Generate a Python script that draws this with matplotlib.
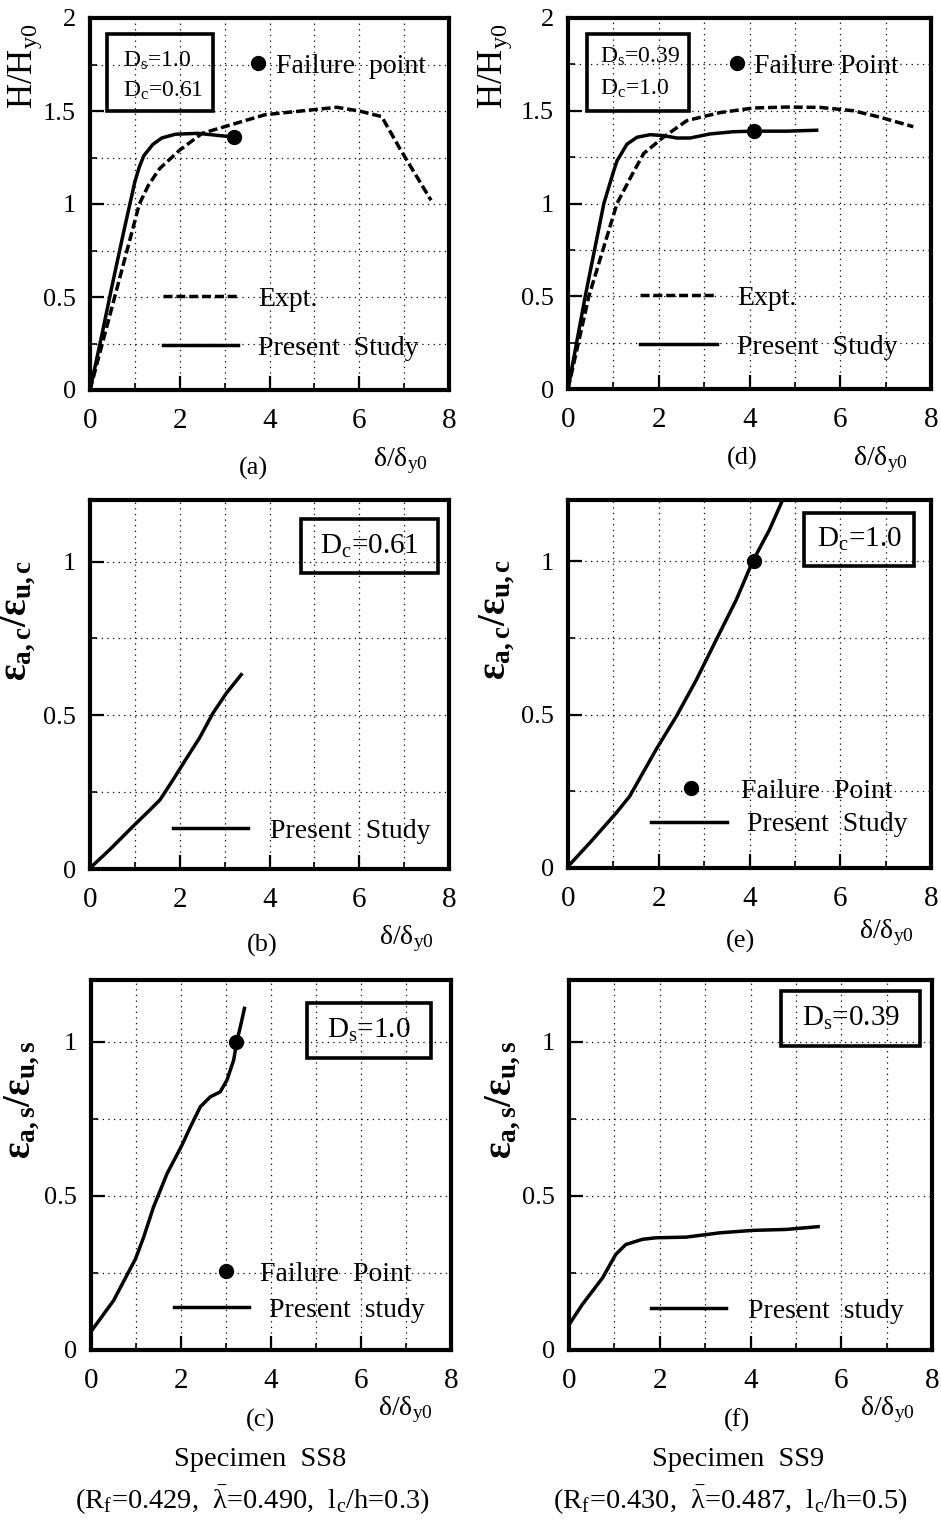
import matplotlib
matplotlib.use('Agg')
import matplotlib.pyplot as plt
from matplotlib.legend import Legend
from matplotlib.patches import Rectangle
from matplotlib.ticker import MultipleLocator, FuncFormatter

plt.rcParams['font.family'] = 'Liberation Serif'
plt.rcParams['mathtext.fontset'] = 'custom'
plt.rcParams['mathtext.rm'] = 'Liberation Serif'
plt.rcParams['mathtext.it'] = 'Liberation Serif:italic'
plt.rcParams['mathtext.bf'] = 'Liberation Serif:bold'
plt.rcParams['mathtext.default'] = 'rm'

# ---- data ----
# (a) SS8, lateral load
a_pred_x = [0, 0.25, 0.5, 0.75, 1.0, 1.1, 1.2, 1.4, 1.6, 1.9, 2.4, 2.8, 3.22]
a_pred_y = [0, 0.28, 0.57, 0.85, 1.12, 1.2, 1.26, 1.32, 1.355, 1.375, 1.38, 1.37, 1.36]
a_expt_x = [0, 0.55, 1.1, 1.3, 1.55, 2.0, 2.5, 3.2, 3.9, 4.7, 5.5, 6.0, 6.5, 6.9, 7.6]
a_expt_y = [0, 0.5, 1.0, 1.1, 1.19, 1.29, 1.38, 1.43, 1.48, 1.50, 1.52, 1.50, 1.47, 1.30, 1.02]
a_fail = [3.22, 1.36]

# (d) SS9, lateral load
d_pred_x = [0, 0.38, 0.79, 1.0, 1.08, 1.3, 1.52, 1.81, 2.1, 2.4, 2.69, 3.13, 3.65, 4.09, 4.82, 5.48]
d_pred_y = [0, 0.5, 1.0, 1.17, 1.23, 1.32, 1.357, 1.371, 1.366, 1.353, 1.353, 1.375, 1.387, 1.39, 1.39, 1.395]
d_expt_x = [0, 0.46, 1.08, 1.4, 1.67, 2.1, 2.62, 3.35, 4.09, 4.82, 5.56, 6.29, 6.88, 7.61]
d_expt_y = [0, 0.5, 1.0, 1.15, 1.27, 1.357, 1.447, 1.49, 1.515, 1.52, 1.518, 1.50, 1.465, 1.414]
d_fail = [4.09, 1.39]

# (b) SS8, concrete strain
b_pred_x = [0, 0.44, 0.96, 1.3, 1.56, 1.85, 2.15, 2.44, 2.74, 3.04, 3.37]
b_pred_y = [0.003, 0.063, 0.139, 0.187, 0.225, 0.29, 0.36, 0.426, 0.507, 0.572, 0.632]

# (e) SS9, concrete strain
e_pred_x = [0, 0.48, 1.06, 1.36, 1.65, 1.94, 2.39, 2.83, 3.27, 3.71, 4.07, 4.44, 4.73]
e_pred_y = [0.005, 0.082, 0.179, 0.234, 0.31, 0.386, 0.495, 0.614, 0.745, 0.875, 1.0, 1.103, 1.2]
e_fail = [4.11, 1.0]

# (c) SS8, steel strain
c_pred_x = [0, 0.5, 0.99, 1.17, 1.39, 1.69, 2.02, 2.21, 2.43, 2.65, 2.87, 3.02, 3.17, 3.24, 3.32, 3.41]
c_pred_y = [0.06, 0.16, 0.296, 0.366, 0.464, 0.572, 0.664, 0.724, 0.789, 0.821, 0.837, 0.875, 0.94, 1.0, 1.049, 1.108]
c_fail = [3.22, 1.0]

# (f) SS9, steel strain
f_pred_x = [0, 0.29, 0.74, 1.03, 1.25, 1.62, 1.92, 2.58, 3.32, 4.06, 4.79, 5.49]
f_pred_y = [0.082, 0.147, 0.234, 0.31, 0.342, 0.359, 0.364, 0.366, 0.38, 0.388, 0.391, 0.4]

W, H = 941, 1531
fig = plt.figure(figsize=(W / 100, H / 100), dpi=100)

LW = 2.5
DASH = (0, (2.6, 1.1))
LEG_FS = 20
LEG_PX = LEG_FS * 100 / 72


def make_ax(left, top, right, bottom, ymax, ylabel, ybold, lab_xy):
    ax = fig.add_axes([left / W, 1 - bottom / H, (right - left) / W, (bottom - top) / H])
    ax.set_xlim(0, 8)
    ax.set_ylim(0, ymax)
    ax.xaxis.set_major_locator(MultipleLocator(2))
    ax.xaxis.set_minor_locator(MultipleLocator(1))
    ax.yaxis.set_major_locator(MultipleLocator(0.5))
    ax.yaxis.set_minor_locator(MultipleLocator(0.25))
    fmt = FuncFormatter(lambda v, p: '%g' % v)
    ax.xaxis.set_major_formatter(fmt)
    ax.yaxis.set_major_formatter(fmt)
    ax.grid(which='both', linestyle=(0, (1, 3.5)), color='k', linewidth=0.9)
    ax.tick_params(which='major', direction='in', length=10, width=1.6)
    ax.tick_params(which='minor', direction='in', length=5, width=1.2)
    ax.tick_params(axis='x', labelsize=21, pad=13)
    ax.tick_params(axis='y', labelsize=19, pad=10)
    for s in ax.spines.values():
        s.set_linewidth(3)
    if ybold:
        ax.set_ylabel(ylabel, fontsize=28, va='center')
    else:
        ax.set_ylabel(ylabel, fontsize=25, va='center')
    ax.yaxis.set_label_coords(*lab_xy)
    return ax


def key(ax, handles, labels, anchor, hl_px, pad_px, spacing=0.8):
    leg = Legend(ax, handles, labels, loc='center left', bbox_to_anchor=anchor,
                 frameon=False, fontsize=LEG_FS, handlelength=hl_px / LEG_PX,
                 handletextpad=pad_px / LEG_PX, labelspacing=spacing,
                 borderpad=0, borderaxespad=0, numpoints=1)
    ax.add_artist(leg)


def box(ax, x0, y0, x1, y1):
    ax.add_patch(Rectangle((x0, y0), x1 - x0, y1 - y0, transform=ax.transAxes,
                           fill=False, ec='k', lw=2.6, zorder=5, clip_on=False))


def tags(ax, tag, tag_xy, dl_xy):
    ax.text(tag_xy[0], tag_xy[1], tag, transform=ax.transAxes, fontsize=19,
            ha='center', va='center')
    ax.text(dl_xy[0], dl_xy[1], r'$\delta/\delta_{y0}$', transform=ax.transAxes,
            fontsize=20, ha='center', va='center')


H_LAB = r'H/H$_{y0}$'
EC_LAB = r'$\mathbf{\varepsilon_{a,c}/\varepsilon_{u,c}}$'
ES_LAB = r'$\mathbf{\varepsilon_{a,s}/\varepsilon_{u,s}}$'

# ---- (a) ----
ax = make_ax(90, 18, 449, 390, 2, H_LAB, False, (-0.18, 0.87))
ex, = ax.plot(a_expt_x, a_expt_y, color='k', lw=LW, linestyle=DASH)
pr, = ax.plot(a_pred_x, a_pred_y, color='k', lw=LW)
fp, = ax.plot(a_fail[0], a_fail[1], 'o', color='k', ms=10)
key(ax, [fp], ['Failure  point'], (0.4675, 0.87), 0, 18.5)
key(ax, [ex, pr], ['Expt.', 'Present  Study'], (0.204, 0.178), 75, 19.8, 0.85)
box(ax, 0.048, 0.751, 0.343, 0.957)
ax.text(0.093, 0.885, r'D$_s$=1.0', transform=ax.transAxes, fontsize=17, va='center')
ax.text(0.093, 0.805, r'D$_c$=0.61', transform=ax.transAxes, fontsize=17, va='center')
tags(ax, '(a)', (0.456, -0.21), (0.864, -0.19))

# ---- (d) ----
ax = make_ax(568, 18, 931, 389, 2, H_LAB, False, (-0.2, 0.87))
ex, = ax.plot(d_expt_x, d_expt_y, color='k', lw=LW, linestyle=DASH)
pr, = ax.plot(d_pred_x, d_pred_y, color='k', lw=LW)
fp, = ax.plot(d_fail[0], d_fail[1], 'o', color='k', ms=10)
key(ax, [fp], ['Failure Point'], (0.465, 0.871), 0, 16.8)
key(ax, [ex, pr], ['Expt.', 'Present  Study'], (0.199, 0.178), 76.7, 20, 0.85)
box(ax, 0.052, 0.75, 0.332, 0.957)
ax.text(0.089, 0.894, r'D$_s$=0.39', transform=ax.transAxes, fontsize=17, va='center')
ax.text(0.089, 0.809, r'D$_c$=1.0', transform=ax.transAxes, fontsize=17, va='center')
tags(ax, '(d)', (0.48, -0.186), (0.86, -0.19))

# ---- (b) ----
ax = make_ax(90, 500, 449, 869, 1.2, EC_LAB, True, (-0.2, 0.675))
pr, = ax.plot(b_pred_x, b_pred_y, color='k', lw=LW)
key(ax, [pr], ['Present  Study'], (0.231, 0.1017), 75, 21.6)
box(ax, 0.588, 0.802, 0.968, 0.948)
ax.text(0.778, 0.875, r'D$_c$=0.61', transform=ax.transAxes, fontsize=21,
        ha='center', va='center')
tags(ax, '(b)', (0.48, -0.206), (0.88, -0.19))

# ---- (e) ----
ax = make_ax(568, 500, 931, 868, 1.2, EC_LAB, True, (-0.196, 0.675))
pr, = ax.plot(e_pred_x, e_pred_y, color='k', lw=LW)
fp, = ax.plot(e_fail[0], e_fail[1], 'o', color='k', ms=10)
key(ax, [fp], ['Failure  Point'], (0.34, 0.208), 0, 50)
key(ax, [pr], ['Present  Study'], (0.229, 0.1175), 75.4, 20)
box(ax, 0.651, 0.822, 0.954, 0.966)
ax.text(0.8025, 0.894, r'D$_c$=1.0', transform=ax.transAxes, fontsize=21,
        ha='center', va='center')
tags(ax, '(e)', (0.474, -0.2), (0.877, -0.177))

# ---- (c) ----
ax = make_ax(91, 980, 451, 1350, 1.2, ES_LAB, True, (-0.19, 0.676))
pr, = ax.plot(c_pred_x, c_pred_y, color='k', lw=LW)
fp, = ax.plot(c_fail[0], c_fail[1], 'o', color='k', ms=10)
key(ax, [fp], ['Failure  Point'], (0.376, 0.206), 0, 33.8)
key(ax, [pr], ['Present  study'], (0.23, 0.108), 74.7, 20.3)
box(ax, 0.6, 0.788, 0.945, 0.939)
ax.text(0.7725, 0.8635, r'D$_s$=1.0', transform=ax.transAxes, fontsize=21,
        ha='center', va='center')
tags(ax, '(c)', (0.47, -0.19), (0.872, -0.16))

# ---- (f) ----
ax = make_ax(569, 980, 932, 1350, 1.2, ES_LAB, True, (-0.18, 0.676))
pr, = ax.plot(f_pred_x, f_pred_y, color='k', lw=LW)
key(ax, [pr], ['Present  study'], (0.226, 0.106), 75.4, 21.8)
box(ax, 0.585, 0.822, 0.968, 0.969)
ax.text(0.7765, 0.8955, r'D$_s$=0.39', transform=ax.transAxes, fontsize=21,
        ha='center', va='center')
tags(ax, '(f)', (0.463, -0.19), (0.876, -0.16))

# ---- specimen captions ----
fig.text(260 / W, 1 - 1460 / H, 'Specimen  SS8', fontsize=20.5, ha='center', va='center')
fig.text(252 / W, 1 - 1500 / H, r'(R$_f$=0.429,  $\bar{\lambda}$=0.490,  l$_c$/h=0.3)',
         fontsize=20.5, ha='center', va='center')
fig.text(738 / W, 1 - 1460 / H, 'Specimen  SS9', fontsize=20.5, ha='center', va='center')
fig.text(730 / W, 1 - 1500 / H, r'(R$_f$=0.430,  $\bar{\lambda}$=0.487,  l$_c$/h=0.5)',
         fontsize=20.5, ha='center', va='center')

fig.savefig('out.png', dpi=100)
